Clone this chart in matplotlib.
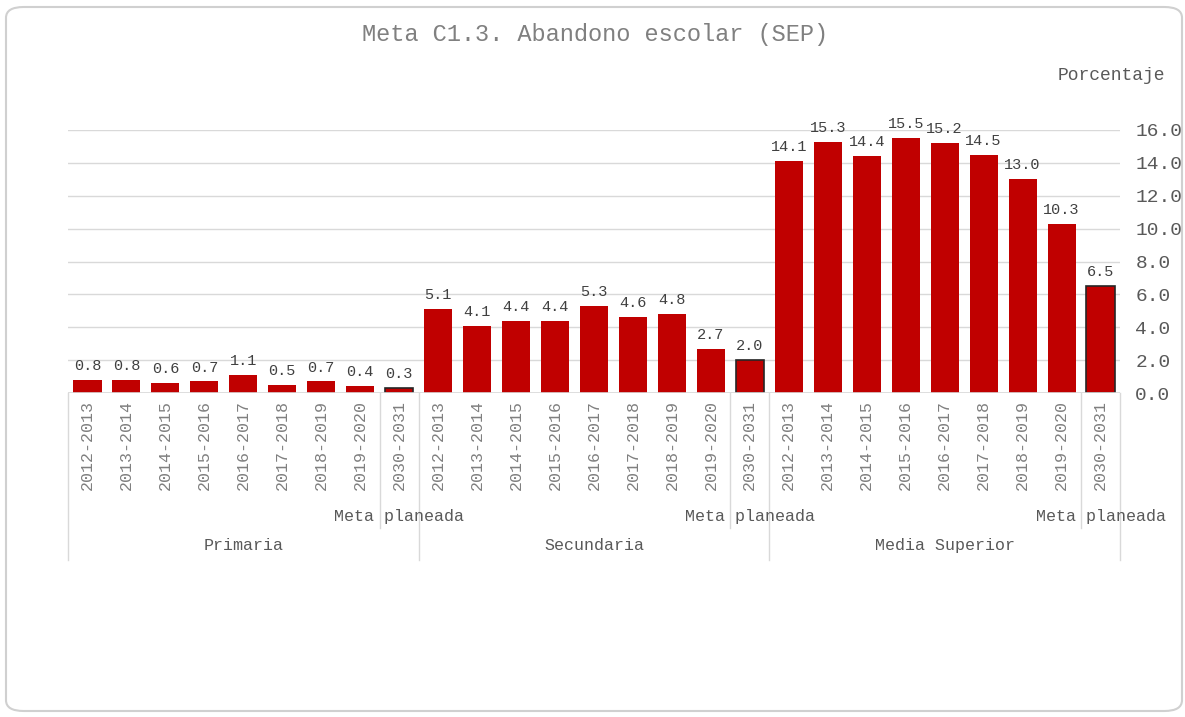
import numpy as np
import matplotlib.pyplot as plt
from matplotlib.patches import FancyBboxPatch

years = ["2012-2013", "2013-2014", "2014-2015", "2015-2016", "2016-2017",
         "2017-2018", "2018-2019", "2019-2020", "2030-2031"]
groups = ["Primaria", "Secundaria", "Media Superior"]
primaria = [0.8, 0.8, 0.6, 0.7, 1.1, 0.5, 0.7, 0.4, 0.3]
secundaria = [5.1, 4.1, 4.4, 4.4, 5.3, 4.6, 4.8, 2.7, 2.0]
media_sup = [14.1, 15.3, 14.4, 15.5, 15.2, 14.5, 13.0, 10.3, 6.5]
meta_label = "Meta planeada"

plt.rcParams['font.family'] = ['Liberation Mono', 'DejaVu Sans Mono']

values = primaria + secundaria + media_sup
labels = years * len(groups)
n_per = len(years)
x = np.arange(len(values))

fig = plt.figure(figsize=(11.85, 7.17), dpi=100)
W, H = 1185, 717
fig.patches.append(FancyBboxPatch((6 / W, 6 / H), 1176 / W, 704 / H,
                                  boxstyle="round,pad=0,rounding_size=0.015",
                                  transform=fig.transFigure, fc='white',
                                  ec='#d0d0d0', lw=1.5, zorder=-10))

ax = fig.add_axes([68 / W, 1 - 393 / H, (1120 - 68) / W, (393 - 130) / H])
ax.patch.set_alpha(0)

is_meta = [(i % n_per) == n_per - 1 for i in x]
ax.bar(x, values, width=0.72, color='#c00000',
       edgecolor=['#262626' if m else '#c00000' for m in is_meta],
       linewidth=[1.2 if m else 0 for m in is_meta], zorder=3)

for xi, v in zip(x, values):
    ax.annotate(f"{v:.1f}", (xi, v), xytext=(0, 5), textcoords='offset points',
                ha='center', va='bottom', fontsize=11, color='#404040',
                annotation_clip=False)

ax.set_xlim(-0.5, len(values) - 0.5)
ax.set_ylim(0, 16)
ax.set_yticks(np.arange(0, 17, 2))
ax.set_yticklabels([f"{t:.1f}" for t in np.arange(0, 17, 2)])
ax.yaxis.tick_right()
ax.tick_params(axis='y', length=0, pad=11, labelsize=14, labelcolor='#595959')
ax.grid(axis='y', color='#d9d9d9', lw=1, zorder=0)
for s in ax.spines.values():
    s.set_visible(False)
ax.axhline(0, color='#d9d9d9', lw=1.2, zorder=4)

ax.set_xticks(x)
ax.set_xticklabels(labels, rotation=90, va='top', ha='center')
ax.tick_params(axis='x', length=0, pad=5, labelsize=12, labelcolor='#7f7f7f')

tr = ax.get_xaxis_transform()
line_kw = dict(color='#d9d9d9', lw=1, transform=tr, clip_on=False)
for g, name in enumerate(groups):
    start = g * n_per - 0.5
    end = start + n_per
    ax.plot([start, start], [0, -0.635], **line_kw)
    ax.plot([end - 1, end - 1], [0, -0.513], **line_kw)
    ax.text(end - 1 + 0.5, -0.468, meta_label, transform=tr, ha='center',
            va='center', fontsize=12, color='#595959')
    ax.text((start + end) / 2, -0.578, name, transform=tr, ha='center',
            va='center', fontsize=12, color='#595959')
ax.plot([len(values) - 0.5] * 2, [0, -0.635], **line_kw)

fig.text(595 / W, 1 - 35 / H, "Meta C1.3. Abandono escolar (SEP)", ha='center',
         va='center', fontsize=17, color='#808080')
fig.text(1165 / W, 1 - 75 / H, "Porcentaje", ha='right', va='center',
         fontsize=13, color='#595959')

fig.savefig("out.png", dpi=100)
